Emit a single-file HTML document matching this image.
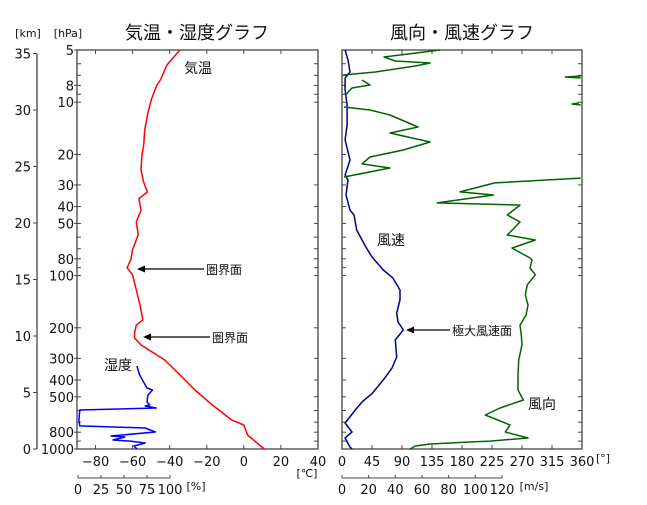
<!DOCTYPE html>
<html><head><meta charset="utf-8"><style>
body{margin:0;background:#fff}
svg text{font-family:"DejaVu Sans","Liberation Sans","Noto Sans CJK JP",sans-serif;fill:#111}
</style></head><body>
<svg id="c" width="647" height="500" viewBox="0 0 647 500" xmlns="http://www.w3.org/2000/svg"></svg>
<script>
// Temperature profile
const tempP=[5,6.1,7.45,8,9.7,11.9,14.5,17.7,20.3,24.6,29,33,36,42,49,58,71,81,90,99,121,148,180,193,214,229,251,307,374,457,557,681,727,830,1000];
const tempT=[-34.5,-41.5,-45,-47,-50,-52,-53.5,-54,-55,-55.5,-54,-52,-56.6,-55.5,-58,-57,-60,-61,-63,-60,-58,-56,-54.5,-58,-59,-59,-55.5,-42.6,-34.5,-26.4,-17,-6.5,0,2,11];
// Humidity profile
const humP=[332,374,427,445,457,489,536,557,565,580,596,681,736,757,798,841,853,887,900,923,961,1000];
const humRH=[64,67,73,75,81,76,75,78,73,85,2,1,2,73,84,36,51,38,57,73,61,64];
// Wind direction
const dirP=[5,5.49,5.79,5.94,6.18,6.70,6.97,7.06,7.16,7.25,7.45,7.96,8.28,8.74,9.21,10.11,10.24,10.38,10.66,11.09,11.86,13.90,15.06,16.97,18.87,20.7,22.7,23.96,27.0,27.4,29.2,32.9,34.3,38.1,39.2,44.7,49.1,58.3,62.3,69.3,79.2,81.3,90.4,99,113,129,148,169,193,220,251,307,374,457,522,580,637,727,798,864,900,911,936,961,1000];
const dirDeg=[147,63,80,132,110,50,2,358,335,358,30,42,15,9,5,355,345,358,3,42,72,114,72,132,92,42,30,72,3,358,229,177,227,143,267,248,267,248,290,255,282,285,282,290,278,275,279,276,267,269,270,265,264,264,272,237,215,252,245,279,222,192,132,110,102];
// Wind speed
const spdP=[5,5.71,6.70,7.25,8.51,10.38,13.54,16.52,21.54,26.3,28.1,34.3,41.9,44.7,54.6,66.6,78.1,92.8,103,121,138,164,185,206,235,295,341,390,475,536,596,708,798,864,974,1000];
const spdV=[2.3,4.5,6,2.3,2.3,3.8,3.8,2.3,6,2.3,4.5,3,6,9,11,17,22.5,31,38,43.5,43.5,41,42,46,40,41,37.5,32,23,15,10,2.3,7.5,2.3,6,7.5];
const pLabels=[5,8,10,20,30,40,50,80,100,200,300,400,500,800,1000];
const kmLabels=[0,5,10,15,20,25,30,35];
const tLabels=[-80,-60,-40,-20,0,20,40];
const rhLabels=[0,25,50,75,100];
const degLabels=[0,45,90,135,180,225,270,315,360];
const msLabels=[0,20,40,60,80,100,120];

const svg=document.getElementById('c');const NS='http://www.w3.org/2000/svg';
function mk(tag,at,parent){const e=document.createElementNS(NS,tag);for(const k in at)e.setAttribute(k,at[k]);(parent||svg).appendChild(e);return e;}
function txt(s,x,y,size,anchor,name){const t=mk('text',{x:x,y:y,'font-size':size,'text-anchor':anchor||'middle'});t.textContent=s;return t;}
const Y0=50,Y1=449;
const yP=p=>Y0+(Y1-Y0)*Math.log10(p/5)/Math.log10(200);
const L0=77,L1=318;const xT=t=>L0+(t+90)*(L1-L0)/130;
const xRH=h=>78+h*0.92;
const R0=342,R1=582;const xD=d=>R0+d*(R1-R0)/360;const xV=v=>R0+v*(160/120);
const kmY=k=>449-k*11.3;

txt('気温・湿度グラフ',197,39,18,'middle','left-title');
txt('風向・風速グラフ',462,39,18,'middle','right-title');
txt('[km]',28,37,11,'middle','km-unit');
txt('[hPa]',68,37,11,'middle','hpa-unit');

[[L0,L1,'left-plot-frame'],[R0,R1,'right-plot-frame']].forEach(([a,b,n])=>{const r=mk('rect',{x:a,y:Y0,width:b-a,height:Y1-Y0,fill:'none',stroke:'#444','stroke-width':1.3});});

const minor=[];for(const d of [1,10,100])for(let m=1;m<10;m++){const p=m*d;if(p>=5&&p<=1000)minor.push(p);}
minor.push(1000);
minor.forEach(p=>{const y=yP(p);[[L0,4],[L1,-4],[R0,4],[R1,-4]].forEach(([x,dx])=>{const l=mk('line',{x1:x,x2:x+dx,y1:y,y2:y,stroke:'#444'});});});
pLabels.forEach(p=>{txt(String(p),L0-3,yP(p)+5,13,'end','pressure-label');const l=mk('line',{x1:L0-3,x2:L0,y1:yP(p),y2:yP(p),stroke:'#444'});});

const ka=mk('line',{x1:37,x2:37,y1:kmY(35),y2:449,stroke:'#444','stroke-width':1.3});
kmLabels.forEach(k=>{const y=kmY(k);const l=mk('line',{x1:33,x2:37,y1:y,y2:y,stroke:'#444'});txt(String(k),31,y+5,13,'end','km-label');});

tLabels.forEach(t=>{const x=xT(t);[[Y1,-4],[Y0,4]].forEach(([y,d])=>{const l=mk('line',{x1:x,x2:x,y1:y,y2:y+d,stroke:'#444'});});txt(String(t).replace('-','−'),x,466,13,'middle','temp-label');});
txt('[℃]',307,477,11,'middle','temp-unit');
const ha=mk('line',{x1:xRH(0),x2:xRH(100),y1:478,y2:478,stroke:'#444'});
rhLabels.forEach(h=>{const x=xRH(h);const l=mk('line',{x1:x,x2:x,y1:478,y2:475,stroke:'#444'});txt(String(h),x,494,13,'middle','humidity-label');});
txt('[%]',196,490,11,'middle','humidity-unit');
degLabels.forEach(d=>{const x=xD(d);[[Y1,-4],[Y0,4]].forEach(([y,dd])=>{const l=mk('line',{x1:x,x2:x,y1:y,y2:y+dd,stroke:'#444'});});txt(String(d),x,466,13,'middle','direction-label');});
txt('[°]',603,462,11,'middle','direction-unit');
const sa=mk('line',{x1:xV(0),x2:xV(120),y1:478,y2:478,stroke:'#444'});
msLabels.forEach(v=>{const x=xV(v);const l=mk('line',{x1:x,x2:x,y1:478,y2:475,stroke:'#444'});txt(String(v),x,494,13,'middle','speed-label');});
txt('[m/s]',534,490,11,'middle','speed-unit');

function poly(xs,ys,color,name){const pl=mk('polyline',{points:xs.map((x,i)=>x.toFixed(1)+','+ys[i].toFixed(1)).join(' '),fill:'none',stroke:color,'stroke-width':1.5,'stroke-linejoin':'round'});}
poly(tempT.map(xT),tempP.map(yP),'#ff0000','temperature-line');
poly(humRH.map(xRH),humP.map(yP),'#0000ff','humidity-line');
poly(spdV.map(xV),spdP.map(yP),'#00008b','wind-speed-line');
let seg=[[dirDeg[0],dirP[0]]];
for(let i=1;i<dirDeg.length;i++){if(Math.abs(dirDeg[i]-dirDeg[i-1])>180){poly(seg.map(s=>xD(s[0])),seg.map(s=>yP(s[1])),'#006400','wind-direction-line');seg=[];}seg.push([dirDeg[i],dirP[i]]);}
poly(seg.map(s=>xD(s[0])),seg.map(s=>yP(s[1])),'#006400','wind-direction-line');

txt('気温',198,73,14,'middle','temperature-label');
txt('湿度',118,370,14,'middle','humidity-series-label');
txt('風速',391,245,14,'middle','wind-speed-series-label');
txt('風向',542,409,14,'middle','wind-direction-series-label');
function arrow(x1,x2,y,label,name){const l=mk('line',{x1:x1,x2:x2+6,y1:y,y2:y,stroke:'#000','stroke-width':1.3});const h=mk('polygon',{points:`${x2},${y} ${x2+8},${y-3.5} ${x2+8},${y+3.5}`,fill:'#000'});txt(label,x1+2,y+5,12,'start',name+'-label');}
arrow(204,137,269,'圏界面','tropopause-upper');
arrow(210,143,337,'圏界面','tropopause-lower');
arrow(450,406,330,'極大風速面','max-wind-level');
</script>
</body></html>
